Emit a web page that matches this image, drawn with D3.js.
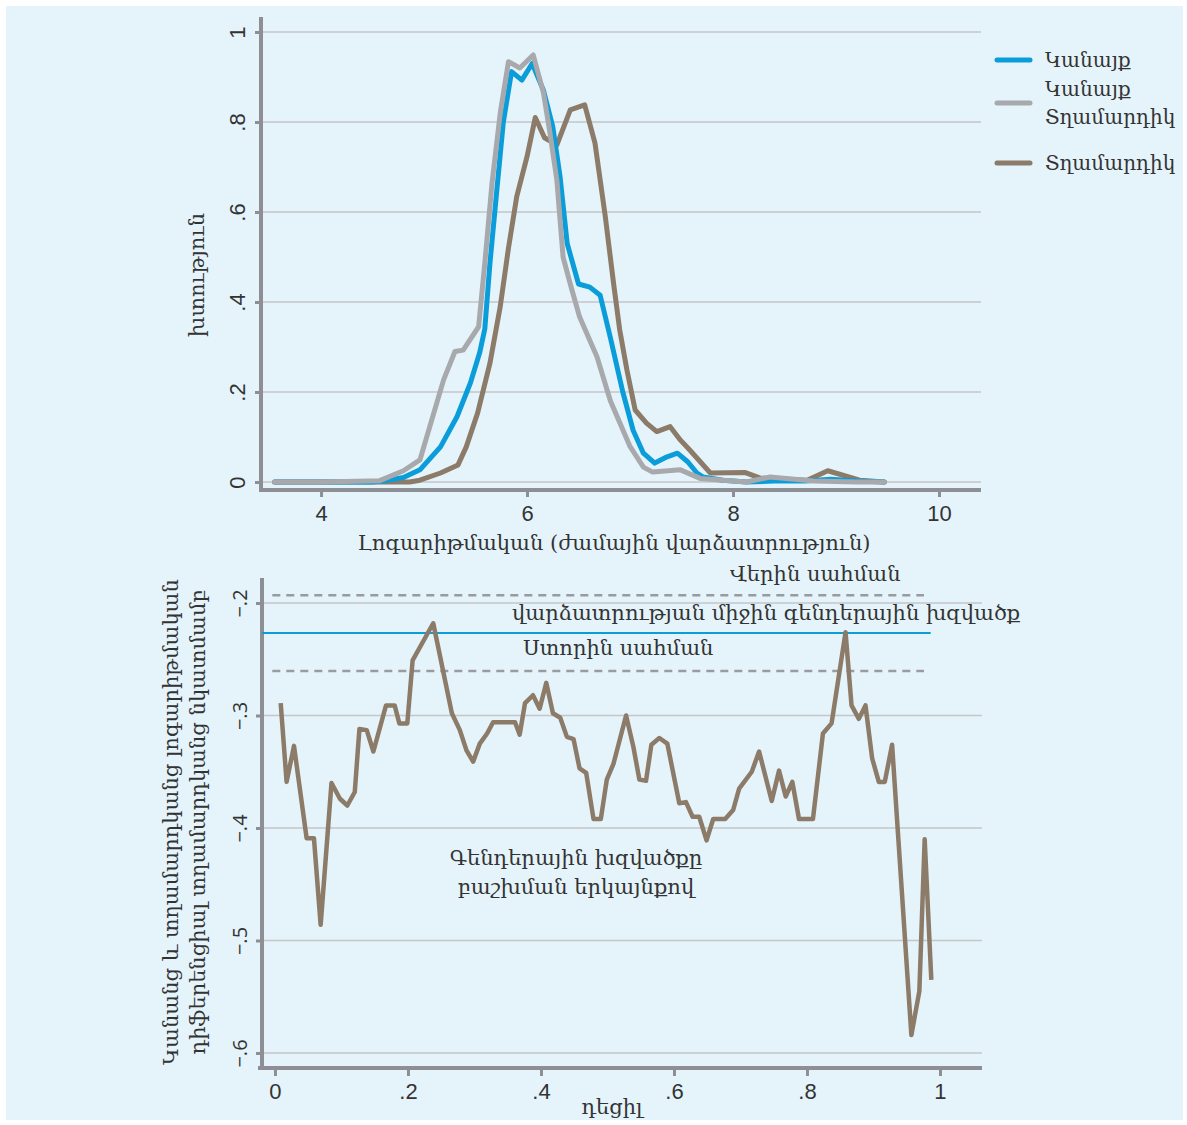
<!DOCTYPE html>
<html>
<head>
<meta charset="utf-8">
<script src="https://cdn.jsdelivr.net/npm/d3@7"></script>
<style>
  body { margin: 0; background: #fff; }
  text { fill: #333; }
</style>
</head>
<body>
<script>
'use strict';

// top panel: density of log hourly wage
var womenX = [3.55, 4.0, 4.5, 4.6, 4.8, 4.96, 5.16, 5.32, 5.45, 5.54, 5.59, 5.64, 5.71, 5.77, 5.85, 5.95, 6.05, 6.16, 6.25, 6.32, 6.39, 6.5, 6.61, 6.71, 6.81, 6.93, 7.03, 7.13, 7.24, 7.36, 7.46, 7.56, 7.65, 7.71, 7.9, 8.13, 8.4, 8.7, 8.95, 9.2, 9.47];
var women = [0, 0, 0, 0.002, 0.01, 0.027, 0.078, 0.145, 0.22, 0.287, 0.34, 0.486, 0.656, 0.8, 0.912, 0.893, 0.93, 0.87, 0.79, 0.68, 0.53, 0.44, 0.433, 0.415, 0.32, 0.2, 0.115, 0.064, 0.042, 0.056, 0.064, 0.045, 0.02, 0.011, 0.004, 0, 0.002, 0.002, 0.006, 0.002, 0];

var pooledX = [3.55, 4.0, 4.57, 4.8, 4.96, 5.19, 5.3, 5.38, 5.53, 5.59, 5.66, 5.74, 5.82, 5.93, 6.06, 6.16, 6.22, 6.29, 6.35, 6.42, 6.51, 6.68, 6.81, 7.0, 7.13, 7.22, 7.49, 7.68, 8.13, 8.36, 8.78, 9.2, 9.47];
var pooled = [0, 0, 0.003, 0.025, 0.049, 0.227, 0.29, 0.293, 0.345, 0.486, 0.664, 0.82, 0.934, 0.92, 0.949, 0.864, 0.78, 0.67, 0.5, 0.44, 0.367, 0.278, 0.18, 0.079, 0.033, 0.022, 0.027, 0.008, 0, 0.011, 0.002, 0, 0];

var menX = [3.55, 4.0, 4.5, 4.86, 4.96, 5.16, 5.33, 5.41, 5.52, 5.64, 5.74, 5.82, 5.9, 6.0, 6.08, 6.17, 6.29, 6.42, 6.56, 6.66, 6.76, 6.84, 6.9, 6.97, 7.05, 7.16, 7.26, 7.39, 7.49, 7.58, 7.78, 8.12, 8.26, 8.72, 8.92, 9.23, 9.47];
var men = [0, 0, 0, 0, 0.004, 0.02, 0.038, 0.078, 0.153, 0.264, 0.39, 0.52, 0.634, 0.723, 0.81, 0.765, 0.749, 0.827, 0.838, 0.753, 0.59, 0.442, 0.338, 0.249, 0.16, 0.131, 0.112, 0.123, 0.093, 0.071, 0.02, 0.021, 0.009, 0.004, 0.025, 0.004, 0];

var legendNames = [['Կանայք'], ['Կանայք', 'Տղամարդիկ'], ['Տղամարդիկ']];
var topYTicks = [0, 0.2, 0.4, 0.6, 0.8, 1];
var topXTicks = [4, 6, 8, 10];

// bottom panel: gender gap by decile
var decile = [0.0086, 0.0175, 0.0286, 0.0476, 0.0586, 0.0687, 0.085, 0.0977, 0.1088, 0.12, 0.127, 0.138, 0.148, 0.167, 0.18, 0.187, 0.199, 0.207, 0.238, 0.266, 0.278, 0.288, 0.298, 0.308, 0.319, 0.328, 0.361, 0.368, 0.376, 0.388, 0.398, 0.408, 0.418, 0.429, 0.439, 0.449, 0.458, 0.468, 0.479, 0.49, 0.499, 0.509, 0.528, 0.539, 0.548, 0.558, 0.566, 0.578, 0.59, 0.608, 0.618, 0.628, 0.638, 0.649, 0.659, 0.677, 0.689, 0.698, 0.717, 0.728, 0.747, 0.758, 0.768, 0.778, 0.788, 0.809, 0.824, 0.837, 0.858, 0.867, 0.878, 0.888, 0.898, 0.908, 0.917, 0.928, 0.957, 0.969, 0.977, 0.987];
var gap = [-0.289, -0.359, -0.327, -0.409, -0.409, -0.486, -0.36, -0.374, -0.38, -0.368, -0.312, -0.313, -0.332, -0.291, -0.291, -0.307, -0.307, -0.251, -0.218, -0.298, -0.313, -0.331, -0.341, -0.325, -0.316, -0.306, -0.306, -0.317, -0.289, -0.282, -0.294, -0.271, -0.298, -0.302, -0.319, -0.321, -0.347, -0.351, -0.392, -0.392, -0.357, -0.343, -0.3, -0.328, -0.357, -0.358, -0.326, -0.32, -0.325, -0.378, -0.377, -0.39, -0.39, -0.411, -0.392, -0.392, -0.384, -0.365, -0.35, -0.332, -0.376, -0.349, -0.372, -0.359, -0.392, -0.392, -0.316, -0.307, -0.226, -0.291, -0.303, -0.291, -0.338, -0.359, -0.359, -0.326, -0.584, -0.545, -0.41, -0.535];
var meanGap = -0.2267;
var upperBound = -0.193;
var lowerBound = -0.2604;
var botYTicks = [-0.2, -0.3, -0.4, -0.5, -0.6];
var botXTicks = [0, 0.2, 0.4, 0.6, 0.8, 1];

var W = 1187, H = 1125;
var blue = '#0a9dd9', grey = '#a8a9ad', brown = '#8b7b68';
var axisCol = '#8e8f94', gridCol = '#c5c6c8';
var serif = '"DejaVu Serif", serif';
var sans = '"Liberation Sans Narrow", "Liberation Sans", sans-serif';

var svg = d3.select('body').append('svg')
    .attr('width', W)
    .attr('height', H);

svg.append('rect')
    .attr('x', 6).attr('y', 6)
    .attr('width', W - 10).attr('height', H - 11)
    .attr('fill', '#e5f3fb');

function fmt(v) {
    if (v === 0) return '0';
    if (v === 1) return '1';
    return d3.format('.1f')(v).replace('0.', '.');
}

// ---------- top panel ----------
var tx = d3.scaleLinear().domain([3.417, 10.408]).range([261, 981]);
var ty = d3.scaleLinear().domain([0, 1]).range([482, 32]);

var topG = svg.append('g');

topG.selectAll('line.grid')
    .data(topYTicks)
    .enter().append('line')
    .attr('x1', 261).attr('x2', 981)
    .attr('y1', ty).attr('y2', ty)
    .attr('stroke', gridCol).attr('stroke-width', 1.5);

var tyAxis = topG.append('g')
    .attr('transform', 'translate(261,0)')
    .call(d3.axisLeft(ty).tickValues(topYTicks).tickFormat(fmt).tickSize(6).tickPadding(0));
tyAxis.select('.domain').remove();
tyAxis.selectAll('.tick line').attr('stroke', axisCol).attr('stroke-width', 3);
tyAxis.selectAll('.tick text')
    .attr('transform', 'rotate(-90)')
    .attr('x', 0).attr('y', -16).attr('dy', 0)
    .attr('text-anchor', 'middle')
    .style('font-family', sans).style('font-size', '22px').attr('fill', '#333');

var txAxis = topG.append('g')
    .attr('transform', 'translate(0,490)')
    .call(d3.axisBottom(tx).tickValues(topXTicks).tickFormat(d3.format('d')).tickSize(7).tickPadding(8));
txAxis.select('.domain').remove();
txAxis.selectAll('.tick line').attr('stroke', axisCol).attr('stroke-width', 3);
txAxis.selectAll('.tick text')
    .style('font-family', sans).style('font-size', '22px').attr('fill', '#333');

topG.append('line').attr('x1', 261).attr('x2', 261).attr('y1', 17).attr('y2', 492)
    .attr('stroke', axisCol).attr('stroke-width', 4);
topG.append('line').attr('x1', 259).attr('x2', 981).attr('y1', 490).attr('y2', 490)
    .attr('stroke', axisCol).attr('stroke-width', 4);

var series = [
    { xs: menX, ys: men, color: brown },
    { xs: womenX, ys: women, color: blue },
    { xs: pooledX, ys: pooled, color: grey }
];

var line = d3.line()
    .x(function (d) { return tx(d[0]); })
    .y(function (d) { return ty(d[1]); });

topG.selectAll('path.dens')
    .data(series)
    .enter().append('path')
    .attr('d', function (s) { return line(d3.zip(s.xs, s.ys)); })
    .attr('fill', 'none')
    .attr('stroke', function (s) { return s.color; })
    .attr('stroke-width', 5)
    .attr('stroke-linejoin', 'round')
    .attr('stroke-linecap', 'round');

topG.append('text')
    .attr('x', 614).attr('y', 550)
    .attr('text-anchor', 'middle')
    .style('font-family', serif).style('font-size', '21px')
    .text('Լոգարիթմական (ժամային վարձատրություն)');

topG.append('text')
    .attr('transform', 'translate(204,275) rotate(-90)')
    .attr('text-anchor', 'middle')
    .style('font-family', serif).style('font-size', '21px')
    .text('խտություն');

// legend
var legendCols = [blue, grey, brown];
var legendY = [60, 103, 163];
var leg = topG.selectAll('g.leg')
    .data(legendNames)
    .enter().append('g')
    .attr('transform', function (d, i) { return 'translate(997,' + legendY[i] + ')'; });
leg.append('line')
    .attr('x1', 0).attr('x2', 33)
    .attr('stroke', function (d, i) { return legendCols[i]; })
    .attr('stroke-width', 5).attr('stroke-linecap', 'round');
leg.each(function (d) {
    var g = d3.select(this);
    var y0 = d.length > 1 ? -7 : 7;
    d.forEach(function (t, j) {
        g.append('text')
            .attr('x', 48).attr('y', y0 + j * 28)
            .style('font-family', serif).style('font-size', '20px')
            .text(t);
    });
});

// ---------- bottom panel ----------
var bx = d3.scaleLinear().domain([-0.0195, 1.0632]).range([262, 982]);
var by = d3.scaleLinear().domain([-0.2, -0.6]).range([603, 1053]);

var bot = svg.append('g');

bot.selectAll('line.grid')
    .data(botYTicks)
    .enter().append('line')
    .attr('x1', 262).attr('x2', 982)
    .attr('y1', by).attr('y2', by)
    .attr('stroke', gridCol).attr('stroke-width', 1.5);

var byAxis = bot.append('g')
    .attr('transform', 'translate(262,0)')
    .call(d3.axisLeft(by).tickValues(botYTicks).tickFormat(fmt).tickSize(6).tickPadding(0));
byAxis.select('.domain').remove();
byAxis.selectAll('.tick line').attr('stroke', axisCol).attr('stroke-width', 3);
byAxis.selectAll('.tick text')
    .attr('transform', 'rotate(-90)')
    .attr('x', 0).attr('y', -15).attr('dy', 0)
    .attr('text-anchor', 'middle')
    .style('font-family', '"Open Sans", sans-serif').style('font-size', '20px').attr('fill', '#333');

var bxAxis = bot.append('g')
    .attr('transform', 'translate(0,1068)')
    .call(d3.axisBottom(bx).tickValues(botXTicks).tickFormat(fmt).tickSize(8).tickPadding(7));
bxAxis.select('.domain').remove();
bxAxis.selectAll('.tick line').attr('stroke', axisCol).attr('stroke-width', 3);
bxAxis.selectAll('.tick text')
    .style('font-family', sans).style('font-size', '22px').attr('fill', '#333');

bot.append('line').attr('x1', 262).attr('x2', 262).attr('y1', 578).attr('y2', 1070)
    .attr('stroke', axisCol).attr('stroke-width', 4);
bot.append('line').attr('x1', 258).attr('x2', 982).attr('y1', 1068).attr('y2', 1068)
    .attr('stroke', axisCol).attr('stroke-width', 4);

// bounds and mean
bot.selectAll('line.bound')
    .data([upperBound, lowerBound])
    .enter().append('line')
    .attr('x1', bx(-0.004)).attr('x2', bx(0.976))
    .attr('y1', by).attr('y2', by)
    .attr('stroke', '#9a9b9f').attr('stroke-width', 2.5)
    .attr('stroke-dasharray', '8,6');
bot.append('line')
    .attr('x1', 262).attr('x2', bx(0.986))
    .attr('y1', by(meanGap)).attr('y2', by(meanGap))
    .attr('stroke', blue).attr('stroke-width', 2);

bot.append('path')
    .attr('d', d3.line()
        .x(function (d) { return bx(d[0]); })
        .y(function (d) { return by(d[1]); })(d3.zip(decile, gap)))
    .attr('fill', 'none')
    .attr('stroke', brown)
    .attr('stroke-width', 4.5)
    .attr('stroke-linejoin', 'round');

var notes = [
    { t: 'Վերին սահման', x: 730, y: 581, a: 'start' },
    { t: 'վարձատրության միջին գենդերային խզվածք', x: 512, y: 620, a: 'start' },
    { t: 'Ստորին սահման', x: 523, y: 655, a: 'start' },
    { t: 'Գենդերային խզվածքը', x: 576, y: 865, a: 'middle' },
    { t: 'բաշխման երկայնքով', x: 576, y: 894, a: 'middle' }
];
bot.selectAll('text.note')
    .data(notes)
    .enter().append('text')
    .attr('x', function (d) { return d.x; })
    .attr('y', function (d) { return d.y; })
    .attr('text-anchor', function (d) { return d.a; })
    .style('font-family', serif).style('font-size', '21px')
    .text(function (d) { return d.t; });

bot.append('text')
    .attr('x', 612).attr('y', 1114)
    .attr('text-anchor', 'middle')
    .style('font-family', serif).style('font-size', '21px')
    .text('դեցիլ');

var ylab = bot.append('text')
    .attr('transform', 'translate(178,822) rotate(-90)')
    .attr('text-anchor', 'middle')
    .style('font-family', serif).style('font-size', '21px');
ylab.append('tspan').attr('x', 0).attr('dy', 0).text('Կանանց և տղամարդկանց լոգարիթմական');
ylab.append('tspan').attr('x', 0).attr('dy', 27).text('դիֆերենցիալ տղամարդկանց նկատմամբ');
</script>
</body>
</html>
